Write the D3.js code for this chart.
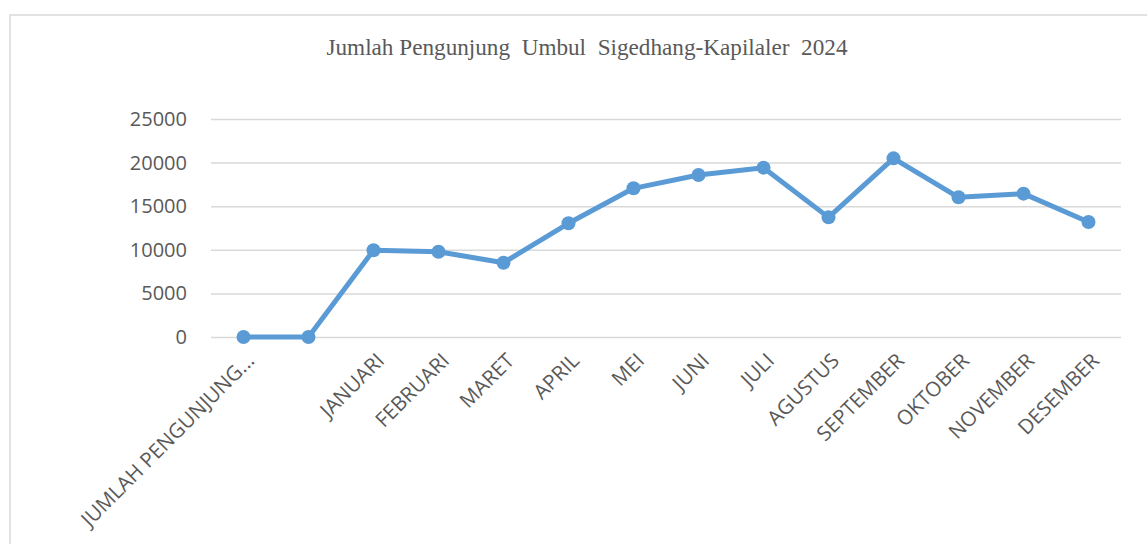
<!DOCTYPE html>
<html>
<head>
<meta charset="utf-8">
<script src="https://cdn.jsdelivr.net/npm/d3@7"></script>
<style>
  body { margin: 0; background: #fff; }
  svg { display: block; }
</style>
</head>
<body>
<div class="chart"></div>
<script>
const w = 1147;
const h = 544;

// data
const categories = ["JUMLAH PENGUNJUNG...", "", "JANUARI", "FEBRUARI", "MARET", "APRIL", "MEI",
                    "JUNI", "JULI", "AGUSTUS", "SEPTEMBER", "OKTOBER", "NOVEMBER", "DESEMBER"];
const visitors = [0, 0, 9950, 9780, 8520, 13040, 17050, 18580, 19420, 13720, 20490, 16020, 16440, 13190];
const yTicks = [0, 5000, 10000, 15000, 20000, 25000];
const title = "Jumlah Pengunjung  Umbul  Sigedhang-Kapilaler  2024";

const plot = { left: 211, right: 1121, top: 119, bottom: 337 };

const svg = d3.select(".chart")
    .append("svg")
    .attr("width", w)
    .attr("height", h);

// chart frame
svg.append("rect")
    .attr("x", 10)
    .attr("y", 15)
    .attr("width", 1160)
    .attr("height", 560)
    .attr("fill", "#fff")
    .attr("stroke", "#d9d9d9")
    .attr("stroke-width", 1.5);

svg.append("text")
    .attr("x", 587)
    .attr("y", 55)
    .attr("text-anchor", "middle")
    .style("font-family", "'Liberation Serif', 'Times New Roman', serif")
    .style("font-size", "23.2px")
    .style("fill", "#595959")
    .style("white-space", "pre")
    .text(title);

const x = d3.scaleBand()
    .domain(d3.range(categories.length))
    .range([plot.left, plot.right]);

const y = d3.scaleLinear()
    .domain([0, 25000])
    .range([plot.bottom, plot.top]);

// gridlines + y labels
const yAxis = svg.append("g")
    .attr("transform", "translate(" + plot.left + ",0)")
    .call(d3.axisLeft(y).tickValues(yTicks).tickSize(-(plot.right - plot.left)).tickPadding(24).tickFormat(d3.format("d")));
yAxis.select(".domain").remove();
yAxis.selectAll(".tick line")
    .attr("stroke", "#d9d9d9")
    .attr("stroke-width", 1.5);
yAxis.selectAll(".tick text")
    .style("font-family", "'Open Sans', sans-serif")
    .style("font-size", "20px")
    .style("fill", "#595959");

// category labels, rotated like the original
const xAxis = svg.append("g")
    .attr("transform", "translate(0," + plot.bottom + ")")
    .call(d3.axisBottom(x).tickSize(0).tickFormat(function (i) { return categories[i]; }));
xAxis.select(".domain").remove();
xAxis.selectAll(".tick text")
    .style("font-family", "'Open Sans', sans-serif")
    .style("font-size", "20.5px")
    .style("fill", "#595959")
    .attr("text-anchor", "end")
    .attr("x", 0)
    .attr("y", 0)
    .attr("dy", "0")
    .attr("transform", "translate(12,25) rotate(-45)");

const cx = function (d, i) { return x(i) + x.bandwidth() / 2; };

const line = d3.line()
    .x(function (d, i) { return x(i) + x.bandwidth() / 2; })
    .y(function (d) { return y(d); });

svg.append("path")
    .datum(visitors)
    .attr("d", line)
    .attr("fill", "none")
    .attr("stroke", "#5b9bd5")
    .attr("stroke-width", 5)
    .attr("stroke-linejoin", "round");

svg.selectAll("circle.pt")
    .data(visitors)
    .enter()
    .append("circle")
    .attr("class", "pt")
    .attr("cx", cx)
    .attr("cy", function (d) { return y(d); })
    .attr("r", 7)
    .attr("fill", "#5b9bd5");
</script>
</body>
</html>
